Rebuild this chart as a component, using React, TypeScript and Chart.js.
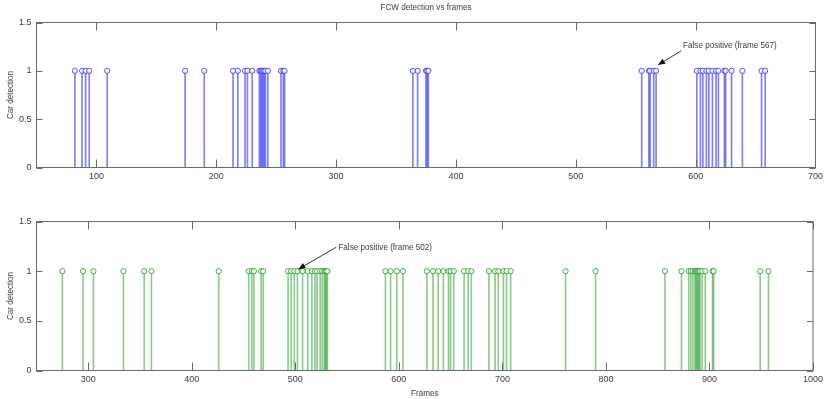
import React, { useEffect, useRef } from "react";
import { Chart, registerables } from "chart.js";

Chart.register(...registerables);

// ---- data ----
const TITLE = "FCW detection vs frames";
const Y_LABEL = "Car detection";
const X_LABEL = "Frames";
const DETECTED = 1;

const TOP_FRAMES = [
  82, 88, 91, 94, 109, 174, 190, 214, 218, 224, 226, 230, 236, 237, 238, 239, 240, 241, 243,
  254, 256, 257, 364, 368, 375, 376, 377, 555, 561, 562, 565, 567, 601, 604, 606, 609, 611,
  614, 617, 619, 624, 625, 630, 639, 655, 658,
];
const BOTTOM_FRAMES = [
  275, 295, 305, 334, 354, 361, 426, 455, 458, 460, 467, 469, 493, 496, 499, 502, 507, 512,
  516, 519, 521, 524, 526, 528, 529, 530, 531, 587, 592, 598, 604, 627, 633, 638, 643, 648,
  650, 653, 663, 667, 670, 687, 693, 696, 701, 704, 708, 761, 790, 857, 873, 880, 882, 884,
  886, 887, 888, 889, 890, 891, 893, 896, 903, 904, 949, 957,
];

const TOP_X_RANGE = [50, 700];
const TOP_X_TICKS = [100, 200, 300, 400, 500, 600, 700];
const BOTTOM_X_RANGE = [250, 1000];
const BOTTOM_X_TICKS = [300, 400, 500, 600, 700, 800, 900, 1000];
const Y_RANGE = [0, 1.5];
const Y_TICKS = [0, 0.5, 1, 1.5];

const TOP_NOTE = { text: "False positive (frame 567)", frame: 567 };
const BOTTOM_NOTE = { text: "False positive (frame 502)", frame: 502 };

const FONT = "'Liberation Sans', Arial, sans-serif";
const TEXT_COLOR = "#3c3c3c";
const AXIS_COLOR = "#6a6a6a";

type Note = { text: string; frame: number; head: [number, number]; tail: [number, number]; textAt: [number, number] };

function condensedText(ctx: CanvasRenderingContext2D, text: string, x: number, y: number, align: "left" | "center") {
  const sx = 0.9;
  ctx.save();
  ctx.translate(x, y);
  ctx.scale(sx, 1);
  ctx.textAlign = align;
  ctx.fillText(text, 0, 0);
  ctx.restore();
}

function makeConfig(opts: {
  frames: number[];
  xRange: number[];
  xTicks: number[];
  stem: string;
  marker: string;
  padding: { left: number; right: number; top: number; bottom: number };
  xAxisHeight: number;
  title?: string;
  xLabel?: string;
  note: Note;
}): any {
  const stems = opts.frames.map((f) => ({ x: f, y: DETECTED }));
  const boxPlugin = {
    id: "matlabBox",
    afterDraw(chart: any) {
      const { ctx, chartArea: a } = chart;
      const xs = chart.scales.x;
      const ys = chart.scales.y;
      ctx.save();
      ctx.strokeStyle = AXIS_COLOR;
      ctx.lineWidth = 1;
      ctx.beginPath();
      opts.xTicks.forEach((v) => {
        const px = Math.round(xs.getPixelForValue(v)) + 0.5;
        ctx.moveTo(px, a.bottom);
        ctx.lineTo(px, a.bottom - 8);
        ctx.moveTo(px, a.top);
        ctx.lineTo(px, a.top + 8);
      });
      Y_TICKS.forEach((v) => {
        const py = Math.round(ys.getPixelForValue(v)) + 0.5;
        ctx.moveTo(a.left, py);
        ctx.lineTo(a.left + 6, py);
        ctx.moveTo(a.right, py);
        ctx.lineTo(a.right - 6, py);
      });
      ctx.stroke();
      ctx.strokeRect(a.left, a.top, a.right - a.left, a.bottom - a.top);

      // text labels
      ctx.fillStyle = TEXT_COLOR;
      ctx.font = `9px ${FONT}`;
      ctx.textBaseline = "middle";
      const cx = (a.left + a.right) / 2;
      if (opts.title) condensedText(ctx, opts.title, cx, 8, "center");
      if (opts.xLabel) condensedText(ctx, opts.xLabel, cx, chart.height - 5, "center");
      ctx.save();
      ctx.translate(10.5, (a.top + a.bottom) / 2);
      ctx.rotate(-Math.PI / 2);
      condensedText(ctx, Y_LABEL, 0, 0, "center");
      ctx.restore();

      // annotation
      const n = opts.note;
      const hx = xs.getPixelForValue(n.frame) + n.head[0];
      const hy = ys.getPixelForValue(DETECTED) + n.head[1];
      const tx = hx + n.tail[0];
      const ty = hy + n.tail[1];
      ctx.strokeStyle = "#333";
      ctx.lineWidth = 1;
      ctx.beginPath();
      ctx.moveTo(tx, ty);
      ctx.lineTo(hx, hy);
      ctx.stroke();
      const ang = Math.atan2(hy - ty, hx - tx);
      const L = 7, W = 3;
      ctx.fillStyle = "#111";
      ctx.beginPath();
      ctx.moveTo(hx, hy);
      ctx.lineTo(hx - L * Math.cos(ang) + W * Math.sin(ang), hy - L * Math.sin(ang) - W * Math.cos(ang));
      ctx.lineTo(hx - L * Math.cos(ang) - W * Math.sin(ang), hy - L * Math.sin(ang) + W * Math.cos(ang));
      ctx.closePath();
      ctx.fill();
      ctx.fillStyle = TEXT_COLOR;
      condensedText(ctx, n.text, tx + n.textAt[0], ty + n.textAt[1], "left");
      ctx.restore();
    },
  };

  return {
    type: "bar",
    data: {
      datasets: [
        {
          type: "line",
          data: stems,
          showLine: false,
          pointStyle: "circle",
          pointRadius: 2.6,
          pointBorderWidth: 1,
          pointBorderColor: opts.marker,
          pointBackgroundColor: "rgba(255,255,255,0.85)",
          order: 0,
        },
        {
          type: "bar",
          data: stems,
          backgroundColor: opts.stem,
          borderWidth: 0,
          barThickness: 1,
          grouped: false,
          order: 1,
        },
      ],
    },
    options: {
      responsive: false,
      animation: false,
      devicePixelRatio: 1,
      events: [],
      layout: { padding: opts.padding },
      plugins: { legend: { display: false }, tooltip: { enabled: false }, title: { display: false } },
      scales: {
        x: {
          type: "linear",
          offset: false,
          min: opts.xRange[0],
          max: opts.xRange[1],
          grid: { display: false, drawTicks: false },
          border: { display: false },
          afterBuildTicks: (s: any) => {
            s.ticks = opts.xTicks.map((v) => ({ value: v }));
          },
          afterFit: (s: any) => {
            s.height = opts.xAxisHeight;
          },
          ticks: {
            autoSkip: false,
            maxRotation: 0,
            padding: 4,
            color: TEXT_COLOR,
            font: { family: FONT, size: 9 },
            callback: (v: any) => String(v),
          },
        },
        y: {
          type: "linear",
          min: Y_RANGE[0],
          max: Y_RANGE[1],
          grid: { display: false, drawTicks: false },
          border: { display: false },
          afterBuildTicks: (s: any) => {
            s.ticks = Y_TICKS.map((v) => ({ value: v }));
          },
          afterFit: (s: any) => {
            s.width = 36.5;
          },
          ticks: {
            padding: 5,
            color: TEXT_COLOR,
            font: { family: FONT, size: 9 },
            callback: (v: any) => String(v),
          },
        },
      },
    },
    plugins: [boxPlugin],
  };
}

function ChartCanvas({ config, width, height, top }: { config: any; width: number; height: number; top: number }) {
  const ref = useRef<HTMLCanvasElement | null>(null);
  useEffect(() => {
    if (!ref.current) return;
    const chart = new Chart(ref.current, config);
    return () => chart.destroy();
  }, [config]);
  return (
    <canvas
      ref={ref}
      width={width}
      height={height}
      style={{ position: "absolute", left: 0, top, width, height, display: "block" }}
    />
  );
}

const topConfig = makeConfig({
  frames: TOP_FRAMES,
  xRange: TOP_X_RANGE,
  xTicks: TOP_X_TICKS,
  stem: "rgba(40,40,255,0.6)",
  marker: "rgba(30,30,255,0.75)",
  padding: { left: 0, right: 10.5, top: 22.5, bottom: 0 },
  xAxisHeight: 31.5,
  title: TITLE,
  note: { ...TOP_NOTE, head: [2, -6], tail: [23, -14], textAt: [2, -5] },
});

const bottomConfig = makeConfig({
  frames: BOTTOM_FRAMES,
  xRange: BOTTOM_X_RANGE,
  xTicks: BOTTOM_X_TICKS,
  stem: "rgba(0,140,0,0.45)",
  marker: "rgba(0,140,0,0.7)",
  padding: { left: 0, right: 10.5, top: 22.5, bottom: 0 },
  xAxisHeight: 28.5,
  xLabel: X_LABEL,
  note: { ...BOTTOM_NOTE, head: [1, -2], tail: [38, -22], textAt: [2, 0] },
});

export default function App() {
  return (
    <div style={{ position: "absolute", left: 0, top: 0, width: 827, height: 399, background: "#fff" }}>
      <ChartCanvas config={topConfig} width={827} height={199} top={0} />
      <ChartCanvas config={bottomConfig} width={827} height={200} top={199} />
    </div>
  );
}
